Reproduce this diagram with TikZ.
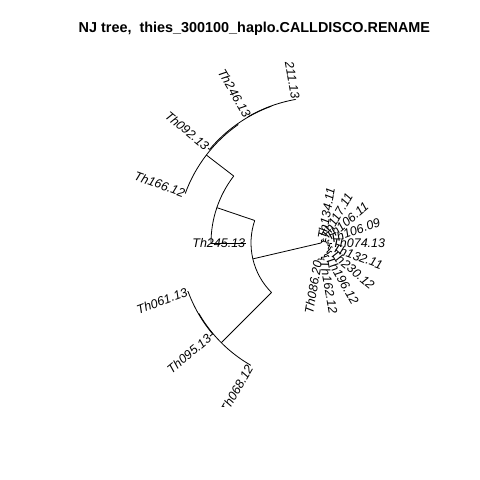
\documentclass[tikz,border=0pt]{standalone}
\usepackage{fontspec}
\setmainfont{Liberation Sans}
\begin{document}
\begin{tikzpicture}[x=1pt, y=1pt,
    branch/.style={line width=0.8pt},
    tiplab/.style={inner xsep=0.6pt, inner ysep=0pt, font=\fontsize{12.5}{14}\selectfont\itshape}]
  \useasboundingbox (0,0) rectangle (480,480);
  \node[anchor=base, font=\fontsize{14.4}{17}\selectfont\bfseries] (title) at (254.4,447)
    {NJ tree,\ \ thies\_300100\_haplo.CALLDISCO.RENAME};

  \coordinate (O) at (321,237);

  \begin{scope}
    \clip (59,73.4) rectangle (449.8,421);
    % internal nodes: name/angle/radius/parent radius
    \foreach \n/\a/\r/\p in {A/193.125/70/0, B/161.25/110/70, C/225/141/70,
        D/142.5/144.5/110, E/125/145.5/144.5, F/110/145.8/145.5, G/210/141.5/141,
        K1/60.039/1.8/0, K2/40.078/3.6/1.8, K3/20.156/5.4/3.6, K4/0.3125/7.2/5.4,
        K5/-19.375/9/7.2, K6/-38.75/10.8/9, K7/-57.5/12.6/10.8,
        K8/-75/14.4/12.6, K9/-90/16.2/14.4}{
      \coordinate (\n-base) at ([shift={(\a:\p)}]O);
      \coordinate (\n) at ([shift={(\a:\r)}]O);
    }
    % tips: name/angle/radius/parent radius/rotation/anchor/label
    \foreach \n/\a/\r/\p/\rot/\an/\t in {
        t211/100/146/145.8/-80/east/211.13,
        t246/120/146/145.8/-60/east/Th246.13,
        t092/140/147.5/145.5/-40/east/Th092.13,
        t166/160/144.5/144.5/-20/east/Th166.12,
        t245/180/75/110/0/east/Th245.13,
        t061/200/142/141.5/20/east/Th061.13,
        t095/220/145/141.5/40/east/Th095.13,
        t068/240/141.5/141/60/east/Th068.12,
        t086/260/17.7/16.2/80/east/Th086.20,
        t162/280/17.7/16.2/280/west/Th162.12,
        t196/300/15.9/14.4/300/west/Th196.12,
        t230/320/14.1/12.6/320/west/Th230.12,
        t132/340/12.3/10.8/340/west/Th132.11,
        t074/0/10.5/9/0/west/Th074.13,
        t10609/20/8.7/7.2/20/west/Th106.09,
        t10611/40/6.9/5.4/40/west/Th106.11,
        t117/60/5.1/3.6/60/west/Th117.11,
        t134/80/3.3/1.8/80/west/Th134.11}{
      \coordinate (\n-base) at ([shift={(\a:\p)}]O);
      \coordinate (\n) at ([shift={(\a:\r)}]O);
      \draw[branch] (\n-base) -- (\n);
      \node[tiplab, rotate=\rot, anchor=\an] (\n-lab) at (\n) {\t};
    }
    \foreach \n in {A,B,C,D,E,F,G,K1,K2,K3,K4,K5,K6,K7,K8,K9}
      \draw[branch] (\n-base) -- (\n);
    % arcs: first child/start angle/end angle/radius
    \foreach \s/\a/\b/\r in {B/161.25/225/70, D/142.5/180/110, G/210/240/141,
        E/125/160/144.5, F/110/140/145.5, t211/100/120/145.8, t061/200/220/141.5,
        K2/40.078/80/1.8, K3/20.156/60/3.6, K4/0.3125/40/5.4, K5/-19.375/20/7.2,
        K6/-38.75/0/9, K7/-57.5/-20/10.8, K8/-75/-40/12.6, K9/-90/-60/14.4,
        t086/-100/-80/16.2}
      \draw[branch] (\s-base) arc[start angle=\a, end angle=\b, radius=\r];
  \end{scope}
\end{tikzpicture}
\end{document}
